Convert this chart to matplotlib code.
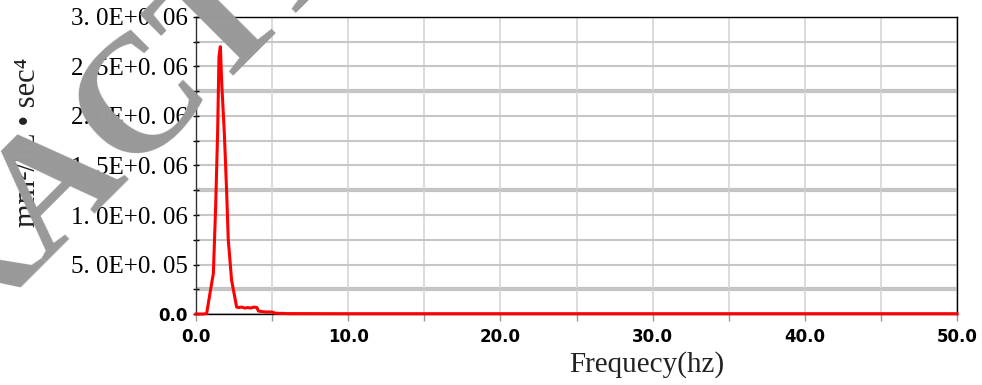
import matplotlib
matplotlib.use("Agg")
import matplotlib.pyplot as plt
from matplotlib.ticker import MultipleLocator, FixedLocator

# ---- data ----
freq_hz = [0.0, 0.5, 0.7, 0.92, 1.14, 1.29, 1.42, 1.51, 1.6, 1.69, 1.86, 2.01, 2.12,
           2.34, 2.67, 2.8, 3.0, 3.2, 3.4, 3.6, 3.8, 4.0, 4.1, 4.3, 4.6, 5.0, 5.2,
           6.0, 10.0, 20.0, 30.0, 40.0, 50.0]
psd = [0.0, 0.0, 0.005e6, 0.21e6, 0.41e6, 1.08e6, 1.83e6, 2.6e6, 2.7e6, 2.33e6,
       1.83e6, 1.25e6, 0.75e6, 0.34e6, 0.07e6, 0.065e6, 0.07e6, 0.06e6, 0.065e6,
       0.06e6, 0.07e6, 0.065e6, 0.03e6, 0.025e6, 0.02e6, 0.02e6, 0.008e6,
       0.004e6, 0.003e6, 0.003e6, 0.003e6, 0.003e6, 0.003e6]

y_ticks = [0, 0.5e6, 1.0e6, 1.5e6, 2.0e6, 2.5e6, 3.0e6]
y_tick_labels = ["0.0", "5. 0E+0. 05", "1. 0E+0. 06", "1. 5E+0. 06",
                 "2. 0E+0. 06", "2. 5E+0. 06", "3. 0E+0. 06"]
x_ticks = [0, 10, 20, 30, 40, 50]
x_tick_labels = ["0.0", "10.0", "20.0", "30.0", "40.0", "50.0"]
thick_grid_y = [0.25e6, 1.25e6, 2.25e6]

x_label = "Frequecy(hz)"
y_label = "mm\u00b2/hz \u2022 sec\u2074"
watermark = "RETRACTED"

narrow = ["Liberation Sans Narrow", "DejaVu Sans"]
serif = ["Liberation Serif", "DejaVu Serif"]

fig = plt.figure(figsize=(9.82, 3.85), dpi=100)
ax = fig.add_axes([196 / 982, 71 / 385, 761 / 982, 297 / 385])
ax.set_xlim(0, 50)
ax.set_ylim(0, 3.0e6)

# grid
ax.yaxis.set_minor_locator(MultipleLocator(0.25e6))
ax.xaxis.set_minor_locator(FixedLocator([5, 15, 25, 35, 45]))
ax.set_yticks(y_ticks)
ax.set_xticks(x_ticks)
ax.grid(which="both", axis="y", color="#c6c6c6", lw=1.5, zorder=0)
ax.grid(which="both", axis="x", color="#d9d9d9", lw=1.3, zorder=0)
for yv in thick_grid_y:
    ax.axhline(yv, color="#c2c2c2", lw=3, zorder=0.5)
ax.set_axisbelow(True)

ax.plot(freq_hz, psd, color="#ff0000", lw=2.2, zorder=3, clip_on=False)

for s in ax.spines.values():
    s.set_color("black")
    s.set_linewidth(1.0)
ax.spines["left"].set_color("#333333")

ax.set_yticklabels(y_tick_labels, family=serif, fontsize=18)
ax.set_xticklabels(x_tick_labels, family=narrow, fontsize=12, fontweight="bold")
lab0 = ax.get_yticklabels()[0]
lab0.set_fontfamily(narrow)
lab0.set_fontsize(12)
lab0.set_fontweight("bold")

ax.tick_params(axis="y", which="both", direction="inout", length=4, width=1,
               color="black", pad=4)
ax.tick_params(axis="x", which="both", direction="out", length=5, width=1,
               color="#999999", pad=5)

fig.text(647 / 982, 1 - 365 / 385, x_label, family=serif, fontsize=21,
         ha="center", va="center", color="#222222")
fig.text(28 / 982, 1 - 142 / 385, y_label, family=serif, fontsize=22,
         rotation=90, ha="center", va="center", color="#222222")

fig.text(88 / 982, 1 - 219 / 385, watermark, rotation=45, rotation_mode="anchor",
         ha="center", va="baseline", fontsize=120, family=serif,
         fontweight="bold", color="#999999", zorder=10)

fig.savefig("out.png", dpi=100)
